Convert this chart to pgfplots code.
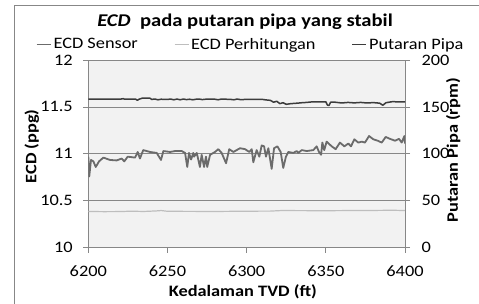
\documentclass[border=0pt]{standalone}
\usepackage{fontspec}
\setmainfont{Carlito}[FakeStretch=1.15]
\usepackage{pgfplots}
\pgfplotsset{compat=1.18}
\definecolor{bgc}{HTML}{F2F2F2}
\definecolor{gridc}{HTML}{878787}
\definecolor{sensor}{HTML}{6B6B6B}
\definecolor{putaran}{HTML}{3C3C3C}
\definecolor{hitung}{HTML}{BEBEBE}
\begin{document}
\begin{tikzpicture}[x=1bp,y=1bp]
\useasboundingbox (0,0) rectangle (479,303);
\draw[gridc,line width=0.8bp] (14,-10) -- (14,298) -- (490,298);
\node[font=\fontsize{18}{20}\selectfont\bfseries,anchor=base] at (245,276) {\textit{ECD}\ \ pada putaran pipa yang stabil};
\begin{axis}[
  at={(88.3bp,55.3bp)}, anchor=south west,
  scale only axis, width=316.7bp, height=187.7bp,
  xmin=6200, xmax=6400, ymin=10, ymax=12,
  xtick={6200,6250,...,6400}, ytick={10,10.5,11,11.5,12},
  axis x line*=bottom, axis y line*=left,
  axis line style={gridc,line width=0.8bp},
  axis background/.style={fill=bgc},
  ymajorgrids, grid style={gridc,line width=0.8bp},
  tick align=outside, major tick length=5bp,
  tick style={gridc,line width=0.8bp},
  /pgf/number format/assume math mode=true,
  /pgf/number format/1000 sep={},
  ticklabel style={font=\fontsize{16}{18}\selectfont, black},
  xticklabel style={yshift=-10bp},
  yticklabel style={xshift=-7bp},
  xlabel={Kedalaman TVD (ft)},
  ylabel={ECD (ppg)},
  label style={font=\fontsize{16}{18}\selectfont\bfseries},
  xlabel style={at={(axis description cs:0.488,0)}, anchor=base, yshift=-48.3bp},
  ylabel style={at={(axis description cs:-0.178,0.54)}, anchor=center},
  legend columns=3,
  legend style={draw=none, fill=none, at={(0.5,1)}, anchor=south, xshift=4bp, yshift=7bp,
    font=\fontsize{16}{18}\selectfont, inner sep=0pt,
    /tikz/every even column/.append style={column sep=34bp}},
  legend image code/.code={\draw[#1] (0bp,0bp) -- (14bp,0bp);},
]
\addplot[sensor, line width=1.8bp, line join=round] coordinates {
(6200.0,10.97)(6200.6,10.76)(6201.7,10.935)(6203.2,10.92)(6204.7,10.86)(6206.8,10.92)
(6209.5,10.96)(6213.7,10.935)(6217.9,10.93)(6221.1,10.95)(6222.7,10.92)(6224.9,10.97)
(6229.5,10.96)(6231.2,11.02)(6232.6,10.95)(6234.7,11.04)(6239.0,11.02)(6243.2,11.01)
(6245.9,10.935)(6247.4,11.03)(6251.6,11.02)(6254.8,11.03)(6259.0,11.03)(6261.1,11.01)
(6262.5,10.86)(6263.6,11.01)(6264.9,10.94)(6266.3,11.01)(6266.8,10.97)(6268.5,11.01)
(6270.5,10.86)(6271.6,10.99)(6273.1,10.86)(6274.3,10.97)(6275.1,10.86)(6276.9,10.99)
(6280.0,11.02)(6282.1,11.05)(6284.2,11.01)(6287.0,10.90)(6289.0,11.05)(6291.6,11.02)
(6295.8,11.06)(6299.0,11.05)(6301.7,11.02)(6303.2,11.05)(6304.2,10.91)(6306.3,11.04)
(6308.0,10.97)(6309.5,11.09)(6311.0,11.08)(6312.2,10.97)(6313.7,11.06)(6315.8,10.84)
(6317.3,11.06)(6319.4,11.08)(6321.5,11.02)(6323.1,10.85)(6324.8,10.97)(6326.3,11.02)
(6329.5,11.01)(6331.6,11.03)(6332.6,11.01)(6334.8,11.04)(6337.9,11.03)(6342.1,11.04)
(6344.2,11.08)(6345.7,11.02)(6347.0,10.99)(6347.8,11.12)(6349.0,11.04)(6350.5,11.13)
(6353.7,11.08)(6356.2,11.05)(6358.9,11.12)(6361.7,11.08)(6364.2,11.11)(6365.9,11.08)
(6368.0,11.155)(6370.5,11.12)(6372.7,11.13)(6374.7,11.12)(6377.3,11.19)(6380.0,11.155)
(6382.8,11.14)(6385.3,11.12)(6387.8,11.18)(6390.5,11.16)(6393.7,11.14)(6396.2,11.16)
(6397.9,11.12)(6399.6,11.19)(6400.0,11.11)
};
\addlegendentry{ECD Sensor}
\addplot[hitung, line width=1.2bp] coordinates {
(6200,10.386)(6210,10.384)(6220,10.385)(6227,10.389)(6235,10.386)(6243,10.392)(6246,10.396)
(6250,10.388)(6265,10.387)(6280,10.386)(6300,10.389)(6315,10.390)(6322,10.396)(6335,10.395)
(6350,10.394)(6365,10.396)(6380,10.397)(6392,10.399)(6400,10.396)
};
\addlegendentry{ECD Perhitungan}
\addlegendimage{putaran, line width=1.5bp}
\addlegendentry{Putaran Pipa}
\end{axis}
\begin{axis}[
  at={(88.3bp,55.3bp)}, anchor=south west,
  scale only axis, width=316.7bp, height=187.7bp,
  xmin=6200, xmax=6400, ymin=0, ymax=200,
  ytick={0,50,...,200},
  axis x line=none, axis y line*=right,
  axis line style={gridc,line width=0.8bp},
  tick align=outside, major tick length=5bp,
  tick style={gridc,line width=0.8bp},
  /pgf/number format/assume math mode=true,
  ticklabel style={font=\fontsize{16}{18}\selectfont, black},
  yticklabel style={xshift=8bp},
  ylabel={Putaran Pipa (rpm)},
  label style={font=\fontsize{16}{18}\selectfont\bfseries},
  ylabel style={at={(axis description cs:1.152,0.52)}, anchor=center},
]
\addplot[putaran, line width=1.5bp, line join=round] coordinates {
(6200,158.2)(6220,158.2)(6222,158.8)(6223,158.2)(6230,158.2)(6231,157)(6232,158.2)
(6234,159.3)(6239,159.3)(6240,158)(6242,158.4)(6244,157.6)(6246,158.2)(6250,158)
(6252,158.4)(6254,157.6)(6256,158.4)(6258,157.6)(6260,158.4)(6262,157.8)(6264,158.2)
(6266,157.6)(6268,158.2)(6270,158.4)(6272,157.8)(6274,158.2)(6280,158.2)(6282,157.6)
(6284,158.4)(6290,158)(6292,157.6)(6294,158.4)(6296,157.8)(6300,158)(6310,158)
(6312,157.5)(6315,157)(6317,155)(6319,156)(6321,153.5)(6323,154.5)(6325,152.8)
(6328,153.5)(6332,154)(6335,154.5)(6338,154.8)(6342,155.5)(6345,155.3)(6350,155.5)
(6351,152)(6352,151.5)(6353,155)(6356,155)(6360,154.2)(6364,154.8)(6368,154.3)
(6372,154.8)(6376,154.2)(6380,154.6)(6384,154)(6386,151.8)(6388,154.5)(6392,155.6)
(6396,155.4)(6400,155.5)
};
\end{axis}
\end{tikzpicture}
\end{document}
